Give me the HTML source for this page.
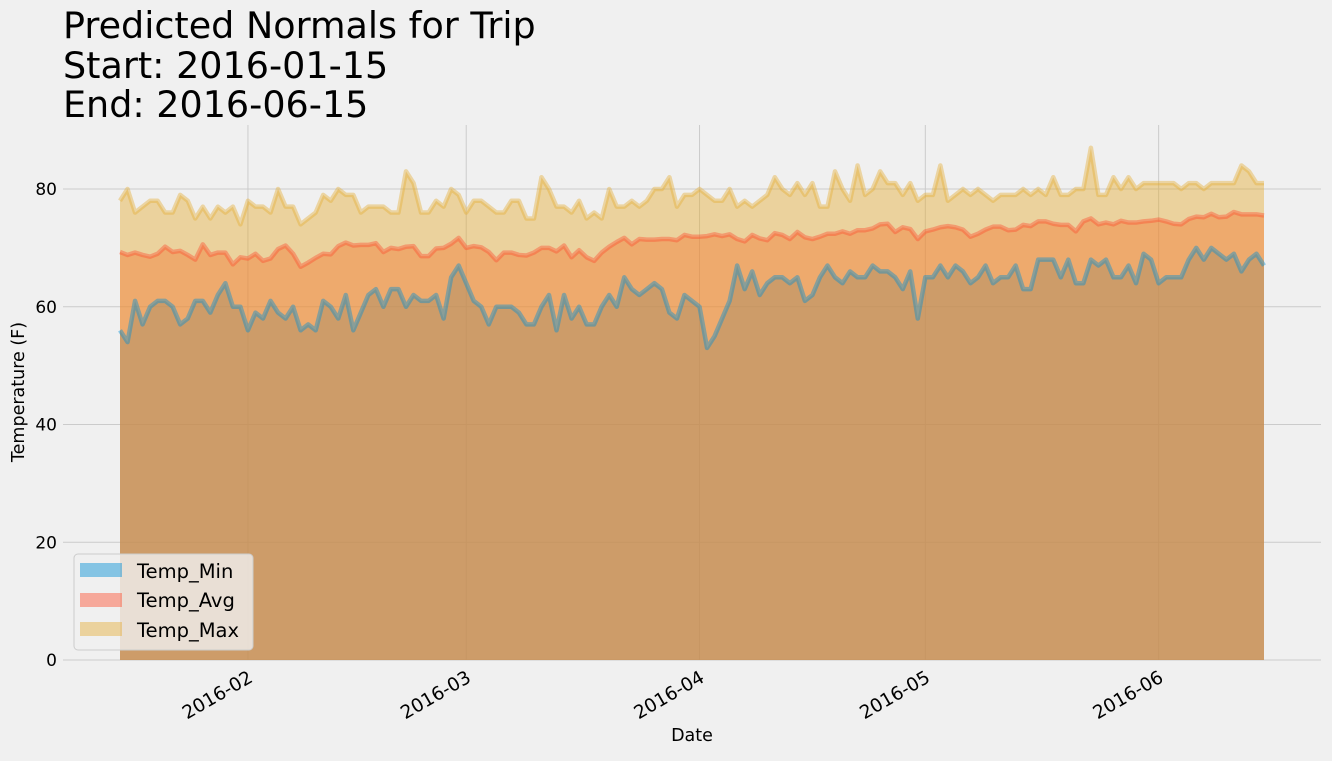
<!DOCTYPE html>
<html><head><meta charset="utf-8"><style>
body{margin:0;background:#f0f0f0;font-family:"Liberation Sans","DejaVu Sans",sans-serif;}
svg text{font-family:"DejaVu Sans","Liberation Sans",sans-serif;}
</style></head><body>
<svg id="chart" width="1332" height="756" xmlns="http://www.w3.org/2000/svg">
<rect width="1332" height="756" fill="#f0f0f0"/>
<g id="title" font-size="36.5" fill="#000">
<text x="63" y="38">Predicted Normals for Trip</text>
<text x="63" y="78">Start: 2016-01-15</text>
<text x="63" y="117">End: 2016-06-15</text>
</g>
<g id="grid"></g>
<g id="areas"></g>
<g id="lines"></g>
<g id="axes"></g>
<text transform="translate(24,392) rotate(-90)" text-anchor="middle" font-size="17.5">Temperature (F)</text>
<text x="692" y="741" text-anchor="middle" font-size="17.5">Date</text>
<g>
<rect x="74" y="554" width="179" height="96" rx="4" fill="#f0f0f0" fill-opacity="0.8" stroke="#cccccc"/>
<rect x="80" y="563" width="42" height="14" fill="#008fd5" fill-opacity="0.45"/>
<text x="137" y="578" font-size="19.5">Temp_Min</text>
<rect x="80" y="593" width="42" height="14" fill="#fc4f30" fill-opacity="0.45"/>
<text x="137" y="607" font-size="19.5">Temp_Avg</text>
<rect x="80" y="622" width="42" height="14" fill="#e5ae38" fill-opacity="0.45"/>
<text x="137" y="637" font-size="19.5">Temp_Max</text>
</g>
</svg>
<script>
const tempMax=[78,80,76,77,78,78,76,76,79,78,75,77,75,77,76,77,74,
78,77,77,76,80,77,77,74,75,76,79,78,80,79,79,76,77,77,77,76,76,83,81,76,76,78,77,80,79,
76,78,78,77,76,76,78,78,75,75,82,80,77,77,76,78,75,76,75,80,77,77,78,77,78,80,80,82,77,79,79,
80,79,78,78,80,77,78,77,78,79,82,80,79,81,79,81,77,77,83,80,78,84,79,80,83,81,81,79,81,78,
79,79,84,78,79,80,79,80,79,78,79,79,79,80,79,80,79,82,79,79,80,80,87,79,79,82,80,82,80,81,81,
81,81,81,80,81,81,80,81,81,81,81,84,83,81,81];
const tempAvg=[69.3,68.8,69.2,68.8,68.5,69,70.2,69.3,69.5,68.8,68,70.6,68.8,69.2,69.2,67.2,68.4,
68.2,69,67.8,68.2,69.8,70.4,69,66.8,67.5,68.3,69,68.9,70.3,70.9,70.4,70.5,70.5,70.8,69.3,70,69.8,70.2,70.3,68.6,68.6,69.9,70,70.7,71.7,
70,70.3,70.1,69.3,67.9,69.2,69.2,68.8,68.7,69.2,70,70,69.4,70.4,68.4,69.6,68.4,67.8,69.2,70.2,71,71.7,70.6,71.5,71.4,71.4,71.5,71.5,71.3,72.2,71.9,
71.9,72,72.3,72,72.3,71.5,71.1,72.2,71.6,71.3,72.5,72.2,71.5,72.7,71.8,71.5,71.9,72.4,72.4,72.8,72.4,73,73,73.3,74,74.1,72.7,73.5,73.2,71.5,
72.8,73.1,73.5,73.7,73.5,73.1,71.9,72.4,73.1,73.6,73.6,73,73.1,73.9,73.7,74.5,74.5,74.1,73.9,73.9,72.8,74.5,75,74,74.3,74,74.6,74.3,74.3,74.5,74.6,
74.8,74.5,74.1,74,74.9,75.3,75.2,75.8,75.2,75.3,76.1,75.7,75.7,75.7,75.5];
const tempMin=[56,54,61,57,60,61,61,60,57,58,61,61,59,62,64,60,60,
56,59,58,61,59,58,60,56,57,56,61,60,58,62,56,59,62,63,60,63,63,60,62,61,61,62,58,65,67,
64,61,60,57,60,60,60,59,57,57,60,62,56,62,58,60,57,57,60,62,60,65,63,62,63,64,63,59,58,62,61,
60,53,55,58,61,67,63,66,62,64,65,65,64,65,61,62,65,67,65,64,66,65,65,67,66,66,65,63,66,58,
65,65,67,65,67,66,64,65,67,64,65,65,67,63,63,68,68,68,65,68,64,64,68,67,68,65,65,67,64,69,68,
64,65,65,65,68,70,68,70,69,68,69,66,68,69,67];
const yTicks=[0,20,40,60,80];
const xTickDays=[17,46,77,107,138];
const xTickLabels=["2016-02","2016-03","2016-04","2016-05","2016-06"];

const NS="http://www.w3.org/2000/svg";
const n=tempMax.length;
const x0=120,x1=1264,yb=660,pxPerUnit=5.8875;
function xs(i){return x0+(x1-x0)*i/(n-1);}
function ys(v){return yb-v*pxPerUnit;}
function mk(tag,attrs,parent){const e=document.createElementNS(NS,tag);for(const k in attrs)e.setAttribute(k,attrs[k]);parent.appendChild(e);return e;}
const grid=document.getElementById('grid'),areas=document.getElementById('areas'),lines=document.getElementById('lines'),axes=document.getElementById('axes');
yTicks.forEach(t=>{
  const l=mk('line',{x1:63,x2:1321,y1:ys(t),y2:ys(t),stroke:'#cbcbcb','stroke-width':1},grid);
  
  
  const tx=mk('text',{x:57,y:ys(t)+6,'text-anchor':'end','font-size':17},axes);
  tx.textContent=t;
  
  
});
xTickDays.forEach((d,i)=>{
  const x=xs(d);
  const l=mk('line',{x1:x,x2:x,y1:125,y2:660,stroke:'#cbcbcb','stroke-width':1},grid);
  
  
  const tx=mk('text',{transform:`translate(${x+6},${681}) rotate(-30)`,'text-anchor':'end','font-size':18.5},axes);
  tx.textContent=xTickLabels[i];
  
  
});
const series=[[tempMin,'#008fd5','area-temp-min'],[tempAvg,'#fc4f30','area-temp-avg'],[tempMax,'#e5ae38','area-temp-max']];
series.forEach(([arr,col,name])=>{
  let pts=arr.map((v,i)=>xs(i).toFixed(2)+','+ys(v).toFixed(2));
  const poly=mk('polygon',{points:xs(0)+','+yb+' '+pts.join(' ')+' '+xs(n-1)+','+yb,fill:col,'fill-opacity':0.45},areas);
  
  
  const line=mk('polyline',{points:pts.join(' '),fill:'none',stroke:col,'stroke-opacity':0.42,'stroke-width':4.5,'stroke-linejoin':'round'},lines);
  
  
});
</script>
</body></html>
